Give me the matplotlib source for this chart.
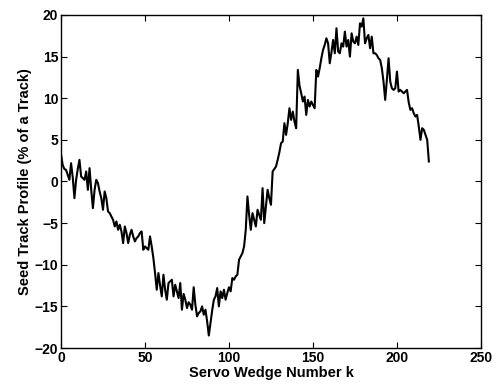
import matplotlib.pyplot as plt
import numpy as np

# seed track profile, one value per servo wedge k = 0..219
profile = [
    3.3, 2.0, 1.5, 1.4, 0.8, 0.2, 2.2, 0.5, -2.0, 0.2,
    1.5, 2.6, 0.6, 0.4, 0.2, 1.2, -1.0, 1.6, -1.0, -3.2,
    -1.0, 0.2, -0.2, -1.2, -2.0, -3.4, -1.2, -2.0, -3.6, -3.8,
    -4.2, -4.6, -5.4, -4.8, -5.8, -5.2, -6.0, -7.4, -5.4, -6.2,
    -7.4, -6.4, -5.8, -6.6, -7.2, -6.8, -6.6, -6.2, -6.0, -8.2,
    -7.8, -8.0, -8.2, -6.6, -7.8, -9.2, -11.0, -13.0, -11.0, -12.5,
    -13.8, -11.2, -13.0, -14.2, -12.2, -12.0, -11.8, -13.8, -12.4, -13.2,
    -14.0, -12.2, -15.4, -13.5, -14.2, -15.2, -14.5, -14.8, -15.4, -12.7,
    -14.8, -16.2, -15.8, -15.6, -15.0, -16.0, -15.4, -16.8, -18.5, -17.0,
    -15.5, -14.2, -13.8, -12.8, -15.0, -13.2, -14.0, -13.0, -14.2, -13.4,
    -12.7, -13.2, -11.6, -11.8, -11.4, -11.2, -9.4, -9.0, -8.6, -7.8,
    -5.8, -1.8, -4.0, -5.8, -3.8, -4.6, -5.4, -3.4, -4.0, -4.6,
    -0.8, -5.0, -3.0, -1.0, -2.0, -2.8, 1.2, 1.5, 1.8, 2.6,
    3.5, 4.6, 4.8, 7.0, 5.6, 7.0, 8.8, 7.4, 8.4, 7.2,
    6.4, 13.4, 11.5, 10.6, 9.6, 10.2, 8.0, 9.8, 9.0, 9.6,
    9.2, 8.8, 13.4, 12.6, 13.6, 14.8, 15.8, 16.4, 17.2, 16.6,
    14.2, 15.5, 17.0, 15.4, 18.4, 15.6, 15.4, 16.6, 16.2, 18.0,
    16.2, 17.0, 15.0, 17.8, 16.8, 16.6, 17.4, 16.4, 19.0, 18.6,
    19.6, 16.6, 17.2, 17.6, 16.0, 17.4, 15.4, 15.4, 15.2, 14.8,
    14.6, 13.6, 12.0, 9.8, 12.2, 14.8, 12.0, 11.2, 11.0, 11.2,
    13.2, 10.8, 11.0, 10.8, 10.6, 10.8, 11.0, 9.5, 8.6, 8.8,
    8.2, 7.8, 8.0, 6.6, 5.0, 6.4, 6.2, 5.6, 5.0, 2.4,
]
wedge = np.arange(len(profile))

xticks = [0, 50, 100, 150, 200, 250]
yticks = [-20, -15, -10, -5, 0, 5, 10, 15, 20]

plt.rcParams['font.family'] = ['Liberation Sans', 'DejaVu Sans']
plt.rcParams['font.weight'] = 'bold'

fig = plt.figure(figsize=(4.97, 3.85), dpi=100)
ax = fig.add_axes([0.1227, 0.0961, 0.845, 0.865])

ax.plot(wedge, profile, color='black', linewidth=1.5)

ax.set_xlim(0, 250)
ax.set_ylim(-20, 20)
ax.set_xticks(xticks)
ax.set_yticks(yticks)
ax.tick_params(direction='in', top=True, right=True, labelsize=10, length=4, pad=2)
for lab in ax.get_xticklabels() + ax.get_yticklabels():
    lab.set_fontweight('bold')
for s in ax.spines.values():
    s.set_linewidth(1.0)

ax.set_xlabel('Servo Wedge Number k', fontsize=10.5, fontweight='bold', labelpad=1)
ax.set_ylabel('Seed Track Profile (% of a Track)', fontsize=10.5, fontweight='bold', labelpad=2)

fig.savefig('out.png', dpi=100)
